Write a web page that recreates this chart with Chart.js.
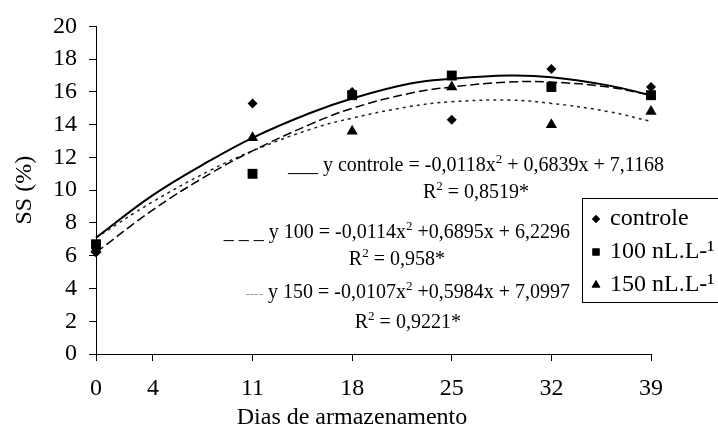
<!DOCTYPE html>
<html>
<head>
<meta charset="utf-8">
<script src="https://cdn.jsdelivr.net/npm/chart.js@4.4.1/dist/chart.umd.min.js"></script>
<style>
  html, body { margin: 0; padding: 0; background: #fff; }
  #wrap { width: 718px; height: 427px; }
</style>
</head>
<body>
<div id="wrap"><canvas id="ssChart" width="718" height="427"></canvas></div>
<script>
// Dados observados (SS %) por dia de armazenamento
const dias = [0, 11, 18, 25, 32, 39];
const ssControle = [6.2, 15.3, 16.0, 14.3, 17.4, 16.3];
const ss100 = [6.7, 11.0, 15.8, 17.0, 16.3, 15.8];
const ss150 = [6.4, 13.2, 13.6, 16.3, 14.0, 14.8];

// Curvas de tendência
const diasTend = [0, 4, 8, 11, 15, 18, 22, 25, 29, 32, 36, 39];
const tendControle = [7.1, 9.7, 11.8, 13.2, 14.7, 15.6, 16.5, 16.8, 17.0, 16.9, 16.4, 15.8];
const tend100 = [6.2, 8.8, 11.0, 12.4, 14.0, 15.0, 15.9, 16.3, 16.6, 16.6, 16.3, 15.8];
const tend150 = [7.1, 9.3, 11.2, 12.4, 13.7, 14.4, 15.1, 15.4, 15.5, 15.3, 14.8, 14.2];

const xTicks = [0, 4, 11, 18, 25, 32, 39];
const legendLabels = ['controle', '100 nL.L-¹', '150 nL.L-¹'];

const FONT = "'Liberation Serif', 'Times New Roman', serif";
const EQ_SIZE = 20;

function pts(xs, ys) {
    return xs.map((x, i) => ({ x: x, y: ys[i] }));
}

// Equações e legenda desenhadas por cima
const overlayPlugin = {
    id: 'overlay',
    afterDraw(chart) {
        const ctx = chart.ctx;
        ctx.save();
        ctx.fillStyle = '#000';
        ctx.textBaseline = 'alphabetic';

        // título do eixo x
        ctx.font = '24px ' + FONT;
        ctx.textAlign = 'center';
        ctx.fillText('Dias de armazenamento', 352, 424);

        // equações
        function eqLine(parts, xRight, y) {
            let w = 0;
            parts.forEach(p => {
                ctx.font = (p.size || EQ_SIZE) + 'px ' + FONT;
                w += ctx.measureText(p.t).width;
            });
            let x = xRight - w;
            const x0 = x;
            ctx.textAlign = 'left';
            parts.forEach(p => {
                ctx.font = (p.size || EQ_SIZE) + 'px ' + FONT;
                ctx.fillStyle = p.color || '#000';
                ctx.fillText(p.t, x, y - (p.rise || 0));
                x += ctx.measureText(p.t).width;
            });
            ctx.fillStyle = '#000';
            return { left: x0, right: xRight };
        }
        function r2Line(val, cx, y) {
            const a = 'R', b = '2', c = ' = ' + val;
            ctx.font = EQ_SIZE + 'px ' + FONT;
            const wa = ctx.measureText(a).width;
            const wc = ctx.measureText(c).width;
            ctx.font = '13px ' + FONT;
            const wb = ctx.measureText(b).width;
            let x = cx - (wa + wb + wc) / 2;
            ctx.textAlign = 'left';
            ctx.font = EQ_SIZE + 'px ' + FONT;
            ctx.fillText(a, x, y); x += wa;
            ctx.font = '13px ' + FONT;
            ctx.fillText(b, x, y - 8); x += wb;
            ctx.font = EQ_SIZE + 'px ' + FONT;
            ctx.fillText(c, x, y);
        }

        let e = eqLine([
            { t: '___ y controle = -0,0118x' },
            { t: '2', size: 13, rise: 8 },
            { t: ' + 0,6839x + 7,1168' }
        ], 664, 171);
        r2Line('0,8519*', (e.left + e.right) / 2, 198);

        e = eqLine([
            { t: '_ _ _ y 100 = -0,0114x' },
            { t: '2', size: 13, rise: 8 },
            { t: ' +0,6895x + 6,2296' }
        ], 570, 238);
        r2Line('0,958*', (e.left + e.right) / 2, 265);

        e = eqLine([
            { t: '----', size: 13, color: '#999' },
            { t: ' y 150 = -0,0107x' },
            { t: '2', size: 13, rise: 8 },
            { t: ' +0,5984x + 7,0997' }
        ], 570, 298);
        r2Line('0,9221*', (e.left + e.right) / 2, 328);

        // legenda
        ctx.fillStyle = '#fff';
        ctx.fillRect(582, 198, 140, 104);
        ctx.strokeStyle = '#000';
        ctx.lineWidth = 1;
        ctx.strokeRect(582.5, 198.5, 140, 104);
        const rows = [219, 252, 285];
        const styles = [
            { pointStyle: 'rectRot', radius: 4 },
            { pointStyle: 'rect', radius: 5 },
            { pointStyle: 'triangle', radius: 5 }
        ];
        ctx.font = '24px ' + FONT;
        ctx.textAlign = 'left';
        ctx.textBaseline = 'middle';
        legendLabels.forEach((lab, i) => {
            ctx.fillStyle = '#000';
            Chart.helpers.drawPoint(ctx, { pointStyle: styles[i].pointStyle, radius: styles[i].radius, rotation: 0, borderWidth: 0 }, 596, rows[i]);
            ctx.fill();
            ctx.fillText(lab, 610, rows[i]);
        });
        ctx.restore();
    }
};

const ctxChart = document.getElementById('ssChart');
new Chart(ctxChart, {
    type: 'scatter',
    data: {
        datasets: [
            {
                label: 'controle (tendência)',
                data: pts(diasTend, tendControle),
                showLine: true,
                borderColor: '#000',
                borderWidth: 2,
                pointRadius: 0,
                tension: 0.4,
                clip: false,
                order: 3
            },
            {
                label: '100 (tendência)',
                data: pts(diasTend, tend100),
                showLine: true,
                borderColor: '#000',
                borderWidth: 1.5,
                borderDash: [9, 4],
                pointRadius: 0,
                tension: 0.4,
                clip: false,
                order: 3
            },
            {
                label: '150 (tendência)',
                data: pts(diasTend, tend150),
                showLine: true,
                borderColor: '#222',
                borderWidth: 1.5,
                borderDash: [3, 4],
                pointRadius: 0,
                tension: 0.4,
                clip: false,
                order: 3
            },
            {
                label: legendLabels[0],
                data: pts(dias, ssControle),
                pointStyle: 'rectRot',
                pointRadius: 5,
                backgroundColor: '#000',
                borderColor: '#000',
                borderWidth: 0,
                clip: false,
                order: 1
            },
            {
                label: legendLabels[1],
                data: pts(dias, ss100),
                pointStyle: 'rect',
                pointRadius: 7,
                backgroundColor: '#000',
                borderColor: '#000',
                borderWidth: 0,
                clip: false,
                order: 2
            },
            {
                label: legendLabels[2],
                data: pts(dias, ss150),
                pointStyle: 'triangle',
                pointRadius: 6.5,
                backgroundColor: '#000',
                borderColor: '#000',
                borderWidth: 0,
                clip: false,
                order: 1
            }
        ]
    },
    options: {
        responsive: false,
        animation: false,
        layout: {
            padding: { top: 20, right: 67, left: 0, bottom: 0 }
        },
        plugins: {
            legend: { display: false },
            tooltip: { enabled: false }
        },
        scales: {
            x: {
                type: 'linear',
                min: 0,
                max: 39,
                afterBuildTicks: function(scale) {
                    scale.ticks = xTicks.map(v => ({ value: v }));
                },
                afterFit: function(scale) {
                    scale.height = 73;
                },
                grid: {
                    drawOnChartArea: false,
                    drawTicks: true,
                    tickLength: 7,
                    color: '#000'
                },
                border: { display: true, color: '#000', width: 1 },
                ticks: {
                    color: '#000',
                    padding: 13,
                    maxRotation: 0,
                    autoSkip: false,
                    font: { family: FONT, size: 24 }
                }
            },
            y: {
                min: 0,
                max: 20,
                afterFit: function(scale) {
                    scale.width = 96;
                },
                grid: {
                    drawOnChartArea: false,
                    drawTicks: true,
                    tickLength: 7,
                    color: '#000'
                },
                border: { display: true, color: '#000', width: 1 },
                ticks: {
                    stepSize: 2,
                    color: '#000',
                    padding: 12,
                    font: { family: FONT, size: 24 }
                },
                title: {
                    display: true,
                    text: 'SS (%)',
                    color: '#000',
                    padding: { top: 10, bottom: 0 },
                    font: { family: FONT, size: 24 }
                }
            }
        }
    },
    plugins: [overlayPlugin]
});
</script>
</body>
</html>
